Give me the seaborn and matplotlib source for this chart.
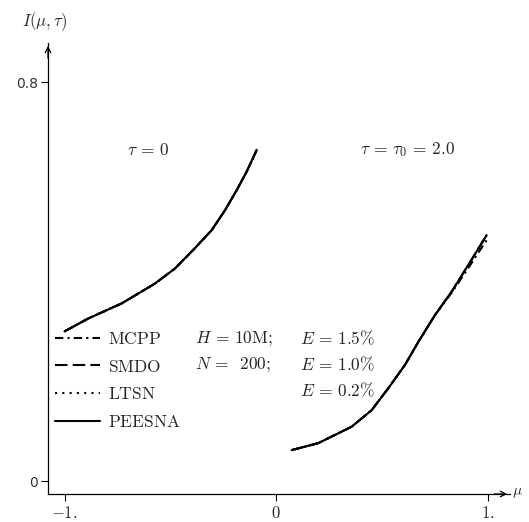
import numpy as np
import pandas as pd
import seaborn as sns
import matplotlib.pyplot as plt

# curve: tau = 0 (upper left branch)
mu_tau0 = [-1.0, -0.887, -0.730, -0.572, -0.478, -0.383, -0.304, -0.241, -0.186, -0.139, -0.091]
I_tau0 = [0.300, 0.326, 0.356, 0.396, 0.426, 0.467, 0.503, 0.543, 0.583, 0.620, 0.664]

# curve tau = tau0 = 2.0 (right branch)
mu_tau2 = [0.074, 0.200, 0.358, 0.452, 0.531, 0.610, 0.673, 0.752, 0.831, 0.909, 0.996]
I_tau2 = [0.062, 0.076, 0.109, 0.142, 0.186, 0.233, 0.279, 0.333, 0.380, 0.433, 0.493]
I_tau2_mcpp = [0.062, 0.076, 0.109, 0.142, 0.186, 0.233, 0.279, 0.333, 0.378, 0.427, 0.483]

methods = ["MCPP", "SMDO", "LTSN", "PEESNA"]
dash_styles = {"MCPP": (4, 2, 1, 2), "SMDO": (6, 2.5), "LTSN": (1, 2.5), "PEESNA": ""}

xticks = [-1, 0, 1]
xtick_labels = [r"$-1.$", r"$0$", r"$1.$"]
yticks = [0, 0.8]
ytick_labels = ["0", "0.8"]

sns.set_style("white")
plt.rcParams["mathtext.fontset"] = "cm"
plt.rcParams["font.family"] = ["DejaVu Sans"]

fig = plt.figure(figsize=(5.29, 5.22), dpi=100)
W, H = 529, 522
ax = fig.add_axes([48 / W, (H - 494) / H, (510 - 48) / W, (494 - 43) / H])

rows = []
for m in methods:
    for x, y in zip(mu_tau0, I_tau0):
        rows.append((m, "a", x, y))
    yy = I_tau2_mcpp if m == "MCPP" else I_tau2
    for x, y in zip(mu_tau2, yy):
        rows.append((m, "b", x, y))
df = pd.DataFrame(rows, columns=["method", "curve", "mu", "I"])

for m in methods:
    for c in ["a", "b"]:
        sub = df[(df.method == m) & (df.curve == c)]
        sns.lineplot(data=sub, x="mu", y="I", ax=ax, color="k", lw=1.5,
                     estimator=None, sort=False,
                     label=r"$\mathrm{" + m + "}$" if c == "a" else None)
        ln = ax.get_lines()[-1]
        if dash_styles[m]:
            ln.set_dashes(dash_styles[m])

ax.set_xlim((48 - 276) / 211.5, (510 - 276) / 211.5)
ax.set_ylim(-0.026, (481 - 43) / 498.75)
ax.set_xticks(xticks)
ax.set_xticklabels(xtick_labels, fontsize=12)
ax.set_yticks(yticks)
ax.set_yticklabels(ytick_labels, fontsize=10, color="#333333")
ax.tick_params(axis="both", direction="out", length=5, width=0.8, color="k",
               bottom=True, left=True, pad=2)
ax.set_xlabel("")
ax.set_ylabel("")
for s in ["top", "right"]:
    ax.spines[s].set_visible(False)
for s in ["left", "bottom"]:
    ax.spines[s].set_color("k")
    ax.spines[s].set_linewidth(0.9)

# arrow heads on the axes
ax.annotate("", xy=(1.0, 0), xytext=(0.96, 0), xycoords="axes fraction",
            arrowprops=dict(arrowstyle="->", lw=0.9, color="k"))
ax.annotate("", xy=(0, 1.0), xytext=(0, 0.96), xycoords="axes fraction",
            arrowprops=dict(arrowstyle="->", lw=0.9, color="k"))

fig.text(45 / W, 1 - 22 / H, r"$I(\mu,\tau)$", fontsize=12, ha="center", va="center")
fig.text(512 / W, 1 - 493 / H, r"$\mu$", fontsize=11, ha="left", va="center")

ax.text(-0.605, 0.664, r"$\tau\,=\,0$", fontsize=12.5, ha="center", va="center")
ax.text(0.624, 0.664, r"$\tau\,=\,\tau_0\,=\,2.0$", fontsize=12.5, ha="center", va="center")

ax.legend(loc="upper left", bbox_to_anchor=(7 / 462, (494 - 330) / 451),
          frameon=False, handlelength=2.6, handletextpad=0.45,
          labelspacing=0.55, borderpad=0, borderaxespad=0, fontsize=12.5)

ax.text((195 - 276) / 211.5, (481 - 339) / 498.75, r"$H\,=\,10\mathrm{M};$", fontsize=12.5, va="center")
ax.text((195 - 276) / 211.5, (481 - 365) / 498.75, r"$N\,=\;\;200;$", fontsize=12.5, va="center")
ax.text((300 - 276) / 211.5, (481 - 339) / 498.75, r"$E\,=\,1.5\%$", fontsize=12.5, va="center")
ax.text((300 - 276) / 211.5, (481 - 365) / 498.75, r"$E\,=\,1.0\%$", fontsize=12.5, va="center")
ax.text((300 - 276) / 211.5, (481 - 391) / 498.75, r"$E\,=\,0.2\%$", fontsize=12.5, va="center")

fig.savefig("out.png", dpi=100)
